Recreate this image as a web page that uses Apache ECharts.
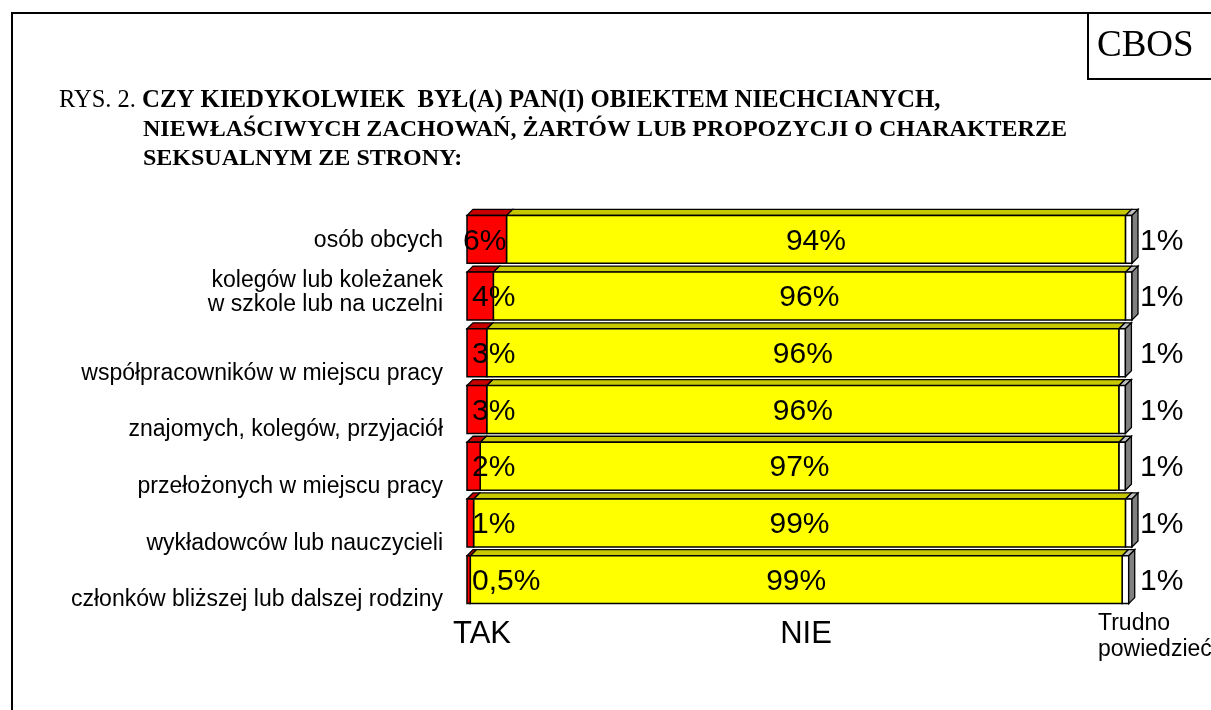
<!DOCTYPE html>
<html>
<head>
<meta charset="utf-8">
<script src="https://cdn.jsdelivr.net/npm/echarts@6/dist/echarts.min.js"></script>
<style>
html,body{margin:0;padding:0;background:#fff;}
#c{width:1211px;height:710px;}
</style>
</head>
<body>
<div id="c"></div>
<script>
const categories = [
  'osób obcych',
  'kolegów lub koleżanek\nw szkole lub na uczelni',
  'współpracowników w miejscu pracy',
  'znajomych, kolegów, przyjaciół',
  'przełożonych w miejscu pracy',
  'wykładowców lub nauczycieli',
  'członków bliższej lub dalszej rodziny'
];
const tak = [6, 4, 3, 3, 2, 1, 0.5];
const nie = [94, 96, 96, 96, 97, 99, 99];
const trudno = [1, 1, 1, 1, 1, 1, 1];
const seriesNames = ['TAK', 'NIE', 'Trudno\npowiedzieć'];
const titleLine1Prefix = 'RYS. 2. ';
const titleLines = [
  'CZY KIEDYKOLWIEK  BYŁ(A) PAN(I) OBIEKTEM NIECHCIANYCH,',
  'NIEWŁAŚCIWYCH ZACHOWAŃ, ŻARTÓW LUB PROPOZYCJI O CHARAKTERZE',
  'SEKSUALNYM ZE STRONY:'
];
const sourceLabel = 'CBOS';

const XMAX = 101;
const COLORS = [
  {front: '#FF0000', top: '#C80000', side: '#800000'},
  {front: '#FFFF00', top: '#C8C800', side: '#808000'},
  {front: '#FFFFFF', top: '#C0C0C0', side: '#808080'}
];
const SANS = '"Liberation Sans", Arial, sans-serif';
const SERIF = '"Liberation Serif", "Times New Roman", serif';

function fmt(v) { return String(v).replace('.', ',') + '%'; }

const segs = [tak, nie, trudno];
function buildData(k) {
  return categories.map((c, i) => {
    let s = 0;
    for (let j = 0; j < k; j++) s += segs[j][i];
    const v = segs[k][i];
    return [s, s + v, i, v];
  });
}

function makeRender(kind) {
  return function (params, api) {
    const s = api.value(0), e = api.value(1), idx = api.value(2), v = api.value(3);
    const p0 = api.coord([s, idx]);
    const p1 = api.coord([e, idx]);
    const band = api.size([0, 1])[1];
    const h = band * 0.845;
    const cy = p0[1];
    const yT = cy - h / 2, yB = cy + h / 2;
    const x0 = p0[0], x1 = p1[0];
    const d = 6;
    const col = COLORS[kind];
    const children = [
      {type: 'polygon', shape: {points: [[x0, yT], [x0 + d, yT - d], [x1 + d, yT - d], [x1, yT]]},
       style: {fill: col.top, stroke: '#000', lineWidth: 1.3, lineJoin: 'miter'}},
      {type: 'rect', shape: {x: x0, y: yT, width: x1 - x0, height: h},
       style: {fill: col.front, stroke: '#000', lineWidth: 1.5}}
    ];
    if (kind === 2) {
      children.push({type: 'polygon', shape: {points: [[x1, yT], [x1 + d, yT - d], [x1 + d, yB - d], [x1, yB]]},
        style: {fill: col.side, stroke: '#000', lineWidth: 1.3}});
    }
    let tx, align;
    if (kind === 0) {
      if (x1 - x0 >= 38) { tx = (x0 + x1) / 2 - 2; align = 'center'; }
      else { tx = x0 + 5; align = 'left'; }
    } else if (kind === 1) {
      tx = (x0 + x1) / 2; align = 'center';
    } else {
      tx = api.coord([XMAX, idx])[0] + 8; align = 'left';
    }
    children.push({type: 'text', z2: 100, x: tx, y: cy + 2,
      style: {text: fmt(v), font: '30px ' + SANS, fill: '#000', align: align, verticalAlign: 'middle'}});
    return {type: 'group', children: children};
  };
}

const chart = echarts.init(document.getElementById('c'), null, {renderer: 'canvas'});
chart.setOption({
  backgroundColor: '#fff',
  animation: false,
  grid: {left: 467, top: 211, width: 665, height: 397, containLabel: false},
  xAxis: {type: 'value', min: 0, max: XMAX, show: false},
  yAxis: {
    type: 'category', inverse: true, data: categories,
    axisLine: {show: false}, axisTick: {show: false}, splitLine: {show: false},
    axisLabel: {
      margin: 24, color: '#000', fontFamily: SANS, fontSize: 23, lineHeight: 25, align: 'right',
      formatter: function (val, i) {
        if (i === 0) return '{a|' + val + '}';
        if (val.indexOf('\n') >= 0) return val.split('\n').map(t => '{m|' + t + '}').join('\n');
        return '{b|' + val + '}';
      },
      rich: {
        a: {fontSize: 23, fontFamily: SANS, color: '#000', padding: [2, 0, 0, 0]},
        m: {fontSize: 23, fontFamily: SANS, color: '#000', lineHeight: 24, padding: [0, 0, 6, 0]},
        b: {fontSize: 23, fontFamily: SANS, color: '#000', padding: [41, 0, 0, 0]}
      }
    }
  },
  series: [0, 1, 2].map(k => ({
    type: 'custom', name: seriesNames[k], clip: false, z: k === 0 ? 4 : (k === 1 ? 3 : 2),
    renderItem: makeRender(k),
    encode: {x: [0, 1], y: 2},
    data: buildData(k)
  })),
  graphic: [
    {type: 'rect', silent: true, shape: {x: 12, y: 13, width: 1300, height: 800},
     style: {fill: null, stroke: '#000', lineWidth: 2}},
    {type: 'polyline', silent: true, shape: {points: [[1088, 13], [1088, 79], [1215, 79]]},
     style: {fill: null, stroke: '#000', lineWidth: 2}},
    {type: 'text', x: 1097, y: 46, style: {text: sourceLabel, font: '37px ' + SERIF, fill: '#000', verticalAlign: 'middle'}},
    {type: 'text', x: 59, y: 101, style: {
      text: '{n|' + titleLine1Prefix + '}{b|' + titleLines[0] + '}', verticalAlign: 'middle',
      rich: {n: {font: '24.5px ' + SERIF, fill: '#000'}, b: {font: 'bold 24.8px ' + SERIF, fill: '#000'}}}},
    {type: 'text', x: 143, y: 130, style: {text: titleLines[1], font: 'bold 24px ' + SERIF, fill: '#000', verticalAlign: 'middle'}},
    {type: 'text', x: 143, y: 159, style: {text: titleLines[2], font: 'bold 24px ' + SERIF, fill: '#000', verticalAlign: 'middle'}},
    {type: 'text', x: 482, y: 634, style: {text: seriesNames[0], font: '31px ' + SANS, fill: '#000', align: 'center', verticalAlign: 'middle'}},
    {type: 'text', x: 806, y: 634, style: {text: seriesNames[1], font: '31px ' + SANS, fill: '#000', align: 'center', verticalAlign: 'middle'}},
    {type: 'text', x: 1098, y: 637, style: {text: seriesNames[2], font: '23px ' + SANS, fill: '#000', lineHeight: 26, verticalAlign: 'middle'}}
  ]
});
</script>
</body>
</html>
